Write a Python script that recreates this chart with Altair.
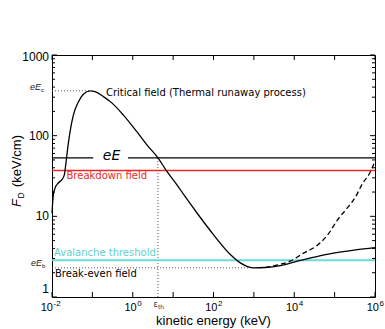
import altair as alt
import pandas as pd

# ---------------- data ----------------
energy_solid = [0.0100, 0.0108, 0.0119, 0.0143, 0.0174, 0.0202, 0.0219, 0.0245, 0.028,
                0.0338, 0.0450, 0.0598, 0.0877, 0.1167, 0.1875, 0.3027, 0.5875, 1.265,
                2.239, 4.345, 7.015, 12.42, 19.95, 38.99, 100.7, 261.2, 462.4, 972.7,
                1928, 4550, 12020, 33880, 93330, 331100, 1000000]
fd_solid = [11, 18.5, 22.4, 25.9, 28.3, 32.7, 43.6, 70, 112, 180, 262, 326, 360, 352,
            305, 255, 180, 112, 77, 52, 36, 24.6, 17.5, 11, 5.9, 3.36, 2.65, 2.3,
            2.32, 2.45, 2.78, 3.15, 3.5, 3.85, 4.1]
energy_dashed = [1928, 4571, 7943, 16980, 38020, 70790, 117500, 208900, 331100,
                 489800, 707900, 1000000]
fd_dashed = [2.32, 2.55, 2.78, 3.5, 4.4, 6.1, 9.0, 12.8, 17.5, 25.5, 33, 48]

eE_value = 53
breakdown_value = 37
avalanche_value = 2.85
critical_value = 360
critical_energy = 0.0877
breakeven_value = 2.3
breakeven_energy = 800
eps_th = 4.2
energy_min, energy_max = 0.01, 1e6
fd_min, fd_max = 1, 1000

x_label_values = [1e-2, 1, 1e2, 1e4, 1e6]
x_label_exps = ["-2", "0", "2", "4", "6"]
x_tick_values = [1e-2, 1e-1, 1, 1e1, 1e2, 1e3, 1e4, 1e5, 1e6]
y_label_values = [1, 10, 100, 1000]
y_label_texts = ["1", "10", "100", "1000"]
y_minor_values = [m * 10 ** k for k in range(0, 3) for m in range(2, 10)]

# ---------------- layout ----------------
W, H = 323, 242
xs = alt.Scale(type="log", domain=[energy_min, energy_max], nice=False)
ys = alt.Scale(type="log", domain=[fd_min, fd_max], nice=False)
SANS = "Liberation Sans"
DJ = "DejaVu Sans"


def X(field):
    return alt.X(field, scale=xs, axis=None)


def Y(field):
    return alt.Y(field, scale=ys, axis=None)


def hline(x1, x2, y, **kw):
    df = pd.DataFrame({"x1": [x1], "x2": [x2], "y": [y]})
    return alt.Chart(df).mark_rule(**kw).encode(x=X("x1:Q"), x2="x2:Q", y=Y("y:Q"))


def label(text, x, y, **kw):
    return alt.Chart(pd.DataFrame({"t": [text]})).mark_text(**kw).encode(
        x=alt.value(x), y=alt.value(y), text="t:N")


solid_df = pd.DataFrame({"e": energy_solid, "f": fd_solid})
dashed_df = pd.DataFrame({"e": energy_dashed, "f": fd_dashed})

solid = alt.Chart(solid_df).mark_line(color="black", strokeWidth=1.3, interpolate="monotone").encode(
    x=X("e:Q"), y=Y("f:Q"))
dashed = alt.Chart(dashed_df).mark_line(color="black", strokeWidth=1.3, strokeDash=[5, 3],
                                        interpolate="monotone").encode(x=X("e:Q"), y=Y("f:Q"))

dot = dict(color="#555555", strokeDash=[1, 2], strokeWidth=1)
lines = [
    hline(energy_min, critical_energy, critical_value, **dot),
    hline(energy_min, breakeven_energy, breakeven_value, **dot),
    alt.Chart(pd.DataFrame({"x": [eps_th], "y1": [fd_min], "y2": [eE_value]})).mark_rule(**dot).encode(
        x=X("x:Q"), y=Y("y1:Q"), y2="y2:Q"),
    hline(energy_min, energy_max, avalanche_value, color="#6fd8d8", strokeWidth=2),
    hline(energy_min, energy_max, breakdown_value, color="#f02828", strokeWidth=1.4),
    hline(energy_min, 0.105, eE_value, color="black", strokeWidth=1.1),
    hline(0.76, energy_max, eE_value, color="black", strokeWidth=1.1),
]

# inward ticks
ytk = pd.DataFrame({"v": y_label_values, "t": y_label_texts})
ymn = pd.DataFrame({"v": y_minor_values})
xtk = pd.DataFrame({"v": x_tick_values})
ticks = []
for df, ln in ((ytk, 5), (ymn, 3)):
    ticks.append(alt.Chart(df).mark_rule(color="black", strokeWidth=1).encode(
        y=Y("v:Q"), x=alt.value(0), x2=alt.value(ln)))
    ticks.append(alt.Chart(df).mark_rule(color="black", strokeWidth=1).encode(
        y=Y("v:Q"), x=alt.value(W), x2=alt.value(W - ln)))
ticks.append(alt.Chart(xtk).mark_rule(color="black", strokeWidth=1).encode(
    x=X("v:Q"), y=alt.value(H), y2=alt.value(H - 5)))
ticks.append(alt.Chart(xtk).mark_rule(color="black", strokeWidth=1).encode(
    x=X("v:Q"), y=alt.value(0), y2=alt.value(5)))

# y tick labels (outer ones kept inside the frame's height, as in the reference)
ylab = dict(font=SANS, fontSize=12, align="right", color="black", dx=-3)
ylabels = [
    alt.Chart(ytk).transform_filter("datum.v > 1 && datum.v < 1000").mark_text(
        baseline="middle", **ylab).encode(y=Y("v:Q"), x=alt.value(0), text="t:N"),
    alt.Chart(ytk).transform_filter("datum.v == 1000").mark_text(
        baseline="middle", dy=2, **ylab).encode(y=Y("v:Q"), x=alt.value(0), text="t:N"),
    alt.Chart(ytk).transform_filter("datum.v == 1").mark_text(
        baseline="alphabetic", dy=-4, **ylab).encode(y=Y("v:Q"), x=alt.value(0), text="t:N"),
]

# x tick labels 10^n
xl = pd.DataFrame({"v": x_label_values, "exp": x_label_exps,
                   "neg": [e.startswith("-") for e in x_label_exps]})
xlabels = []
for neg, dx in ((False, 4), (True, 1)):
    base = alt.Chart(xl).transform_filter(alt.datum.neg == neg)
    xlabels.append(base.transform_calculate(ten="'10'").mark_text(
        font=SANS, fontSize=11, align="right", baseline="alphabetic", dx=dx, color="black").encode(
        x=X("v:Q"), y=alt.value(256), text="ten:N"))
    xlabels.append(base.mark_text(
        font=SANS, fontSize=8, align="left", baseline="alphabetic", dx=dx + 0.5, color="black").encode(
        x=X("v:Q"), y=alt.value(251), text="exp:N"))

# epsilon_th label under the axis
eps_df = pd.DataFrame({"v": [eps_th], "a": ["ε"], "b": ["th"]})
eps_labels = [
    alt.Chart(eps_df).mark_text(font=DJ, fontSize=8, align="right", baseline="alphabetic",
                                dx=0, color="#333").encode(x=X("v:Q"), y=alt.value(252), text="a:N"),
    alt.Chart(eps_df).mark_text(font=DJ, fontSize=6, align="left", baseline="alphabetic",
                                dx=0, color="#333").encode(x=X("v:Q"), y=alt.value(254), text="b:N"),
]

texts = [
    label("Critical field (Thermal runaway process)", 54, 40.5, font=DJ, fontSize=10,
          align="left", baseline="alphabetic", color="black"),
    label("eE", 59.5, 105, font=DJ, fontSize=14, fontStyle="italic", align="center",
          baseline="alphabetic", color="black"),
    label("Breakdown field", 14.5, 124, font=DJ, fontSize=10, align="left",
          baseline="alphabetic", color="#f02828"),
    label("Avalanche threshold", 2, 201, font=DJ, fontSize=10, align="left",
          baseline="alphabetic", color="#5fd0d0"),
    label("Break-even field", 3, 222, font=DJ, fontSize=10, align="left",
          baseline="alphabetic", color="black"),
    # eE_c and eE_b left labels
    label("eE", -11, 35, font=SANS, fontSize=9, fontStyle="italic", align="right",
          baseline="alphabetic", color="#222"),
    label("c", -11, 37, font=SANS, fontSize=6, align="left", baseline="alphabetic", color="#222"),
    label("eE", -10, 211, font=SANS, fontSize=9, fontStyle="italic", align="right",
          baseline="alphabetic", color="#222"),
    label("b", -10, 213, font=SANS, fontSize=6, align="left", baseline="alphabetic", color="#222"),
    # axis titles
    label("kinetic energy (keV)", W / 2, 270, font=SANS, fontSize=13, align="center",
          baseline="alphabetic", color="black"),
    label("F", -31, 152, font=SANS, fontSize=13, fontStyle="italic", angle=270, align="left",
          baseline="alphabetic", color="black"),
    label("D", -28, 143.5, font=SANS, fontSize=8.5, angle=270, align="left",
          baseline="alphabetic", color="black"),
    label("(keV/cm)", -31, 132, font=SANS, fontSize=13, angle=270, align="left",
          baseline="alphabetic", color="black"),
]

chart = alt.layer(*lines, solid, dashed, *ticks, *ylabels, *xlabels, *eps_labels, *texts).properties(
    width=W, height=H,
    padding={"left": 52, "top": 55, "right": 10, "bottom": 32},
    autosize=alt.AutoSizeParams(type="none"),
    background="white",
).configure_view(stroke="black", strokeWidth=1)

chart.save("out.html", embed_options={"renderer": "svg", "actions": False})
